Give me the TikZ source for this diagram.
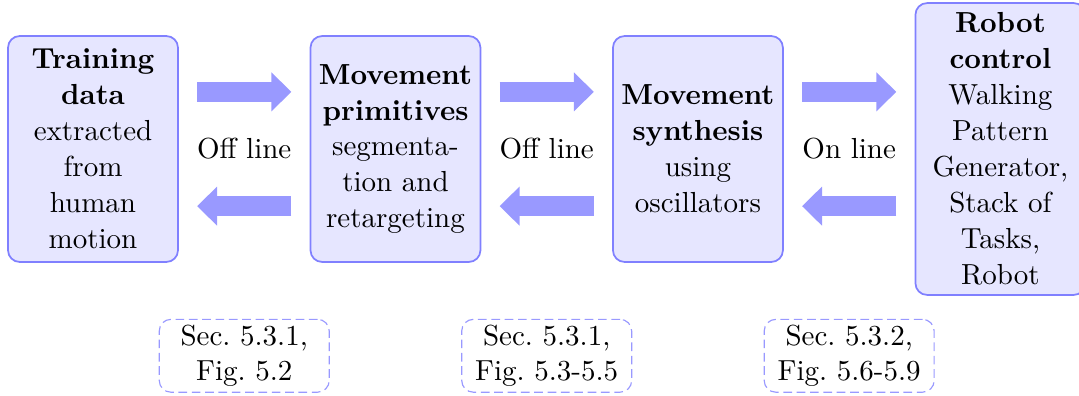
\documentclass[tikz,border=0pt]{standalone}
\usepackage{tikz}
\usetikzlibrary{arrows.meta,positioning}
\definecolor{flowfill}{RGB}{230,230,255}
\definecolor{flowline}{RGB}{128,128,255}
\definecolor{flowarrow}{RGB}{153,153,255}

\begin{document}
\begin{tikzpicture}[
  stage/.style={draw=flowline,semithick,fill=flowfill,rounded corners=4pt,
    text width=54pt,align=center,inner xsep=2.3pt,minimum height=77.9pt,
    font=\fontsize{10}{12.4}\selectfont},
  refbox/.style={draw=flowarrow,dash pattern=on 3pt off 1.6pt,rounded corners=4pt,
    text width=54pt,align=center,inner xsep=2.3pt,inner ysep=1.8pt,
    font=\fontsize{10}{12.4}\selectfont},
  fatarrow/.style={flowarrow,line width=6.9pt,-{Triangle[length=6.9pt,width=13.1pt]}},
  node distance=45.1pt]
  \useasboundingbox (-32.07pt,-85.17pt) rectangle (340pt,51.38pt);
  \node[stage] (train) at (0,0) {\textbf{Training}\\\textbf{data}\\extracted\\from\\human\\motion};
  \node[stage,right=of train] (prim) {\textbf{Movement}\\\textbf{primitives}\\segmenta-\\tion and\\retargeting};
  \node[stage,right=of prim] (synth) {\textbf{Movement}\\\textbf{synthesis}\\using\\oscillators};
  \node[stage,right=of synth] (robot) {\textbf{Robot}\\\textbf{control}\\Walking\\Pattern\\Generator,\\Stack of\\Tasks,\\Robot};
  \foreach \a/\b/\lbl/\where [count=\i] in {
      train/prim/Off line/{Sec.\ 5.3.1,\\Fig.\ 5.2},
      prim/synth/Off line/{Sec.\ 5.3.1,\\Fig.\ 5.3-5.5},
      synth/robot/On line/{Sec.\ 5.3.2,\\Fig.\ 5.6-5.9}} {
    \draw[fatarrow] ([xshift=6.3pt,yshift=19.7pt]\a.east) -- ([xshift=-6.3pt,yshift=19.7pt]\b.west);
    \draw[fatarrow] ([xshift=-6.3pt,yshift=-19.7pt]\b.west) -- ([xshift=6.3pt,yshift=-19.7pt]\a.east);
    \path (\a.east) -- (\b.west) node[midway] (lab\i) {\lbl};
    \node[refbox,yshift=-71.3pt] (ref\i) at (lab\i) {\where};
  }
\end{tikzpicture}
\end{document}
